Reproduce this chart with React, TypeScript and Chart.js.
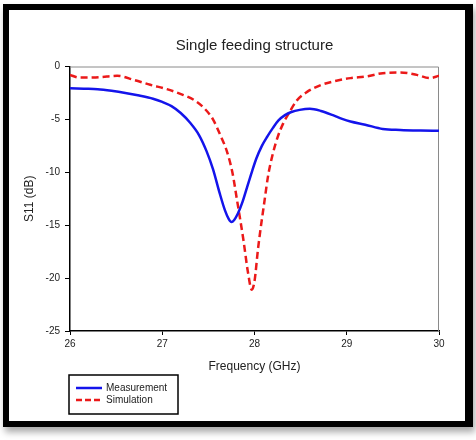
import React, { useEffect, useRef } from "react";
import { Chart, registerables } from "chart.js";

Chart.register(...registerables);

const measFreq = [26.0, 26.15, 26.3, 26.45, 26.6, 26.75, 26.9, 27.0, 27.1, 27.2, 27.3, 27.4, 27.48, 27.55, 27.62, 27.68, 27.72, 27.75, 27.78, 27.82, 27.87, 27.92, 27.97, 28.02, 28.08, 28.14, 28.2, 28.26, 28.33, 28.4, 28.49, 28.6, 28.72, 28.85, 28.95, 29.04, 29.2, 29.39, 29.58, 29.8, 30.0];
const measS11 = [-2.05, -2.1, -2.15, -2.3, -2.5, -2.75, -3.05, -3.35, -3.75, -4.4, -5.3, -6.5, -8.0, -9.7, -11.9, -13.6, -14.4, -14.7, -14.5, -13.9, -12.8, -11.4, -10.0, -8.7, -7.5, -6.6, -5.8, -5.1, -4.6, -4.3, -4.1, -4.0, -4.2, -4.6, -4.95, -5.2, -5.5, -5.9, -6.0, -6.05, -6.07];

const simFreq = [26.0, 26.1, 26.25, 26.4, 26.51, 26.69, 26.87, 27.05, 27.23, 27.35, 27.45, 27.55, 27.63, 27.7, 27.76, 27.81, 27.88, 27.93, 27.97, 28.0, 28.04, 28.11, 28.15, 28.2, 28.25, 28.31, 28.38, 28.46, 28.57, 28.72, 28.85, 29.04, 29.21, 29.39, 29.58, 29.76, 29.9, 30.0];
const simS11 = [-0.8, -1.05, -1.04, -0.95, -0.88, -1.26, -1.73, -2.14, -2.7, -3.2, -3.9, -5.0, -6.5, -8.0, -10.0, -12.6, -16.4, -19.5, -21.1, -20.3, -17.1, -12.6, -10.2, -8.2, -6.7, -5.4, -4.3, -3.2, -2.4, -1.75, -1.42, -1.1, -0.95, -0.63, -0.57, -0.79, -1.1, -0.88];

const xTicks = [26, 27, 28, 29, 30];
const yTicks = [-25, -20, -15, -10, -5, 0];

const seriesNames = ["Measurement", "Simulation"];
const titleText = "Single feeding structure";
const xTitle = "Frequency (GHz)";
const yTitle = "S11 (dB)";

const FONT = "'Liberation Sans', Arial, sans-serif";
const BLUE = "rgb(20,20,235)";
const RED = "rgb(235,25,25)";

const framePlugin = {
  id: "plotFrame",
  beforeDatasetsDraw(chart: any) {
    const { ctx, chartArea } = chart;
    ctx.save();
    ctx.strokeStyle = "#8a8a8a";
    ctx.lineWidth = 1;
    ctx.beginPath();
    ctx.moveTo(chartArea.left, chartArea.top + 0.5);
    ctx.lineTo(chartArea.right - 0.5, chartArea.top + 0.5);
    ctx.lineTo(chartArea.right - 0.5, chartArea.bottom);
    ctx.stroke();
    ctx.restore();
  },
};

const legendPlugin = {
  id: "boxLegend",
  afterDraw(chart: any) {
    const { ctx } = chart;
    const bx = 69, by = 375, bw = 109, bh = 39;
    ctx.save();
    ctx.strokeStyle = "#000";
    ctx.lineWidth = 1.5;
    ctx.strokeRect(bx, by, bw, bh);
    const items = [
      { label: seriesNames[0], color: BLUE, dash: [] as number[], y: 388 },
      { label: seriesNames[1], color: RED, dash: [6, 3], y: 400 },
    ];
    ctx.font = `10px ${FONT}`;
    ctx.textBaseline = "middle";
    ctx.textAlign = "left";
    for (const it of items) {
      ctx.strokeStyle = it.color;
      ctx.lineWidth = 2.5;
      ctx.setLineDash(it.dash);
      ctx.beginPath();
      ctx.moveTo(76, it.y);
      ctx.lineTo(102, it.y);
      ctx.stroke();
      ctx.setLineDash([]);
      ctx.fillStyle = "#222";
      ctx.fillText(it.label, 106, it.y);
    }
    ctx.restore();
  },
};

export default function App() {
  const ref = useRef<HTMLCanvasElement | null>(null);

  useEffect(() => {
    if (!ref.current) return;
    const chart = new Chart(ref.current, {
      type: "line",
      data: {
        datasets: [
          {
            label: seriesNames[0],
            data: measFreq.map((f, i) => ({ x: f, y: measS11[i] })),
            borderColor: BLUE,
            backgroundColor: BLUE,
            borderWidth: 2.5,
            pointRadius: 0,
            cubicInterpolationMode: "monotone",
            fill: false,
          },
          {
            label: seriesNames[1],
            data: simFreq.map((f, i) => ({ x: f, y: simS11[i] })),
            borderColor: RED,
            backgroundColor: RED,
            borderWidth: 2.5,
            borderDash: [7, 4],
            pointRadius: 0,
            cubicInterpolationMode: "monotone",
            fill: false,
          },
        ],
      },
      options: {
        animation: false,
        responsive: false,
        devicePixelRatio: 1,
        layout: { padding: { left: 10, right: 37, top: 10, bottom: 64 } },
        plugins: {
          legend: { display: false },
          tooltip: { enabled: false },
          title: {
            display: true,
            text: titleText,
            fullSize: false,
            color: "#222",
            font: { family: FONT, size: 15, weight: "normal" },
            padding: { top: 27, bottom: 11.5 },
          },
        },
        scales: {
          x: {
            type: "linear",
            min: 26,
            max: 30,
            afterFit: (s: any) => { s.height = 45; },
            afterBuildTicks: (s: any) => { s.ticks = xTicks.map((v) => ({ value: v })); },
            ticks: {
              color: "#222",
              font: { family: FONT, size: 10 },
              padding: 3,
              maxRotation: 0,
            },
            grid: { drawOnChartArea: false, drawTicks: true, tickLength: 4, color: "#000", lineWidth: 1 },
            border: { display: true, color: "#000", width: 1.5 },
            title: {
              display: true,
              text: xTitle,
              color: "#222",
              font: { family: FONT, size: 12 },
              padding: { top: 0, bottom: 1.8 },
            },
          },
          y: {
            type: "linear",
            min: -25,
            max: 0,
            afterFit: (s: any) => { s.width = 60; },
            afterBuildTicks: (s: any) => { s.ticks = yTicks.map((v) => ({ value: v })); },
            ticks: {
              color: "#222",
              font: { family: FONT, size: 10 },
              padding: 5,
            },
            grid: { drawOnChartArea: false, drawTicks: true, tickLength: 5, color: "#000", lineWidth: 1 },
            border: { display: true, color: "#000", width: 1.5 },
            title: {
              display: true,
              text: yTitle,
              color: "#222",
              font: { family: FONT, size: 12 },
              padding: { top: 12.8, bottom: 0 },
            },
          },
        },
      },
      plugins: [framePlugin, legendPlugin],
    });
    return () => chart.destroy();
  }, []);

  return (
    <div style={{ position: "absolute", left: 0, top: 0, width: 476, height: 440, background: "#fff" }}>
      <div
        style={{
          position: "absolute",
          left: 3,
          top: 4,
          width: 470,
          height: 423,
          boxSizing: "border-box",
          borderStyle: "solid",
          borderColor: "#000",
          borderWidth: "6px 8px 6px 6px",
          background: "#fff",
          boxShadow: "2px 5px 7px rgba(0,0,0,0.35)",
        }}
      />
      <canvas ref={ref} width={476} height={440} style={{ position: "absolute", left: 0, top: 0 }} />
    </div>
  );
}
